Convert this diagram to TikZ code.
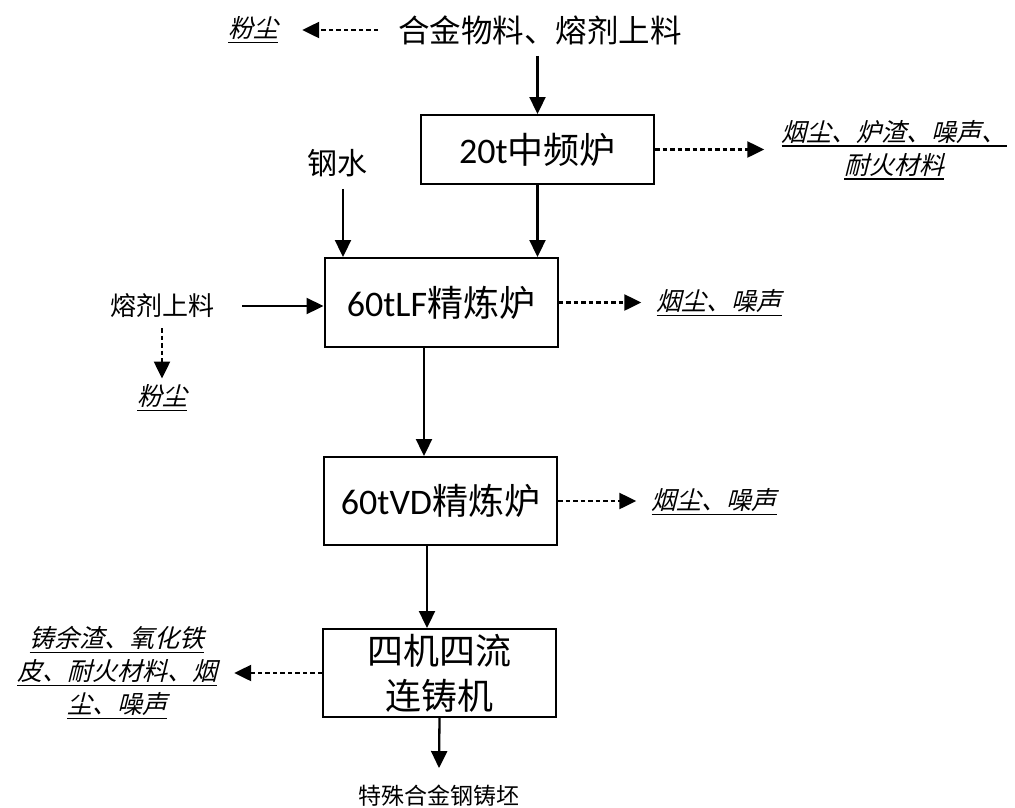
\documentclass[tikz,border=0pt]{standalone}
\usepackage{fontspec}
\setmainfont{Carlito}
\newfontfamily\cjk{Noto Sans CJK SC}
\newfontfamily\cjki[FakeSlant=0.25]{Noto Sans CJK SC}
\usetikzlibrary{arrows.meta,calc}
\newcommand{\ulx}[1]{\setbox0\hbox{#1}\rlap{\rule[-0.22em]{\wd0}{1.5pt}}\box0}
\begin{document}
\begin{tikzpicture}[x=1pt,y=-1pt,
  box/.style={draw,line width=2pt,minimum width=233pt,inner sep=0pt,font=\fontsize{36}{45}\selectfont,align=center},
  lbl/.style={inner sep=0pt,align=center},
  emitlbl/.style={inner sep=0pt,align=center,font=\fontsize{25}{33}\cjki},
  flow/.style={line width=2.3pt,-{Triangle[length=17pt,width=16pt]}},
  emit/.style={flow,dash pattern=on 4.5pt off 3pt}]
\useasboundingbox (0,0) rectangle (1015,807);
% boxes
\node[box,minimum height=69pt] (b1) at (537.5,149.5) {20t{\cjk 中频炉}};
\node[box,minimum height=89pt] (b2) at (441,302.5) {60tLF{\cjk 精炼炉}};
\node[box,minimum height=88pt] (b3) at (440.5,501) {60tVD{\cjk 精炼炉}};
\node[box,minimum height=88pt] (b4) at (439.5,673) {{\cjk 四机四流}\\{\cjk 连铸机}};
% inputs
\node[lbl,font=\fontsize{31.5}{36}\cjk] (ti) at (540,30) {合金物料、熔剂上料};
\node[emitlbl] (p1) at (253,30) {\ulx{粉尘}};
\node[lbl,font=\fontsize{30}{36}\cjk] (gs) at (337,163) {钢水};
\node[lbl,font=\fontsize{26}{32}\cjk] (rj) at (162,306) {熔剂上料};
\node[emitlbl] (fc) at (162,398) {\ulx{粉尘}};
\node[lbl,font=\fontsize{23}{28}\cjk] (out) at (439,796) {特殊合金钢铸坯};
% emissions
\node[emitlbl] (e1) at (894,150) {\ulx{烟尘、炉渣、噪声、}\\\ulx{耐火材料}};
\node[emitlbl] (e2) at (719,303) {\ulx{烟尘、噪声}};
\node[emitlbl] (e3) at (714,502) {\ulx{烟尘、噪声}};
\node[emitlbl] (e4) at (117,673) {\ulx{铸余渣、氧化铁}\\\ulx{皮、耐火材料、烟}\\\ulx{尘、噪声}};
% main flow
\draw[flow] ([yshift=-11]b1.north |- ti.south) -- (b1.north);
\draw[flow] (b1.south) -- (b1.south |- b2.north);
\path (gs.south) ++(6,12) coordinate (gsa);
\draw[flow] (gsa) -- (gsa |- b2.north);
\draw[flow] ([xshift=28]rj.east) -- (rj.east -| b2.west);
\draw[flow] ([xshift=-17]b2.south) -- ([xshift=-16.5]b3.north);
\draw[flow] ([xshift=-13.5]b3.south) -- ([xshift=-12.5]b4.north);
\draw[flow] (b4.south) -- ([yshift=17]out.north);
% emissions
\draw[emit] ([xshift=-20]ti.west) -- ([xshift=24]p1.east);
\draw[emit] ([yshift=-10]rj.south) -- ([yshift=6]fc.north);
\draw[emit] (b1.east) -- ([xshift=-17]e1.west |- b1.east);
\draw[emit] (b2.east) -- ([xshift=-15]e2.west |- b2.east);
\draw[emit] (b3.east) -- ([xshift=-15]e3.west |- b3.east);
\draw[emit] (b4.west) -- ([xshift=17]e4.east |- b4.west);
\end{tikzpicture}
\end{document}
